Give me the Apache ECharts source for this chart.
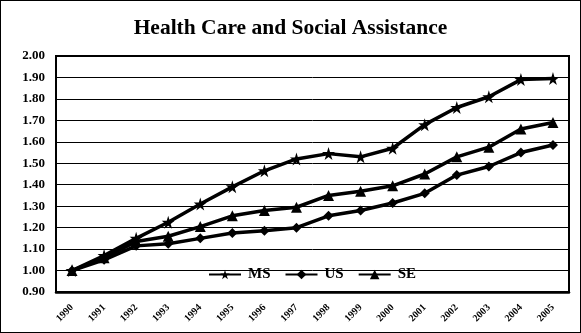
<!DOCTYPE html>
<html>
<head>
<meta charset="utf-8">
<script src="https://cdn.jsdelivr.net/npm/echarts@6/dist/echarts.min.js"></script>
<style>
html, body { margin: 0; padding: 0; background: #fff; }
#chart { width: 581px; height: 333px; box-sizing: border-box; border: 1px solid #000; }
</style>
</head>
<body>
<div id="chart"></div>
<script>
// years on the x axis
var years = ['1990','1991','1992','1993','1994','1995','1996','1997','1998','1999','2000','2001','2002','2003','2004','2005'];
// index values (1990 = 1.00)
var msData = [1.00, 1.07, 1.15, 1.225, 1.31, 1.39, 1.465, 1.52, 1.545, 1.53, 1.57, 1.68, 1.76, 1.81, 1.89, 1.895];
var usData = [1.00, 1.05, 1.115, 1.125, 1.15, 1.175, 1.185, 1.20, 1.255, 1.28, 1.315, 1.36, 1.445, 1.485, 1.55, 1.585];
var seData = [1.00, 1.06, 1.135, 1.16, 1.205, 1.255, 1.28, 1.295, 1.35, 1.37, 1.395, 1.45, 1.53, 1.575, 1.66, 1.69];

var starPath = 'path://M50,0 L61,35 L98,35 L68,57 L79,91 L50,70 L21,91 L32,57 L2,35 L39,35 Z';

var chart = echarts.init(document.getElementById('chart'));

function makeSeries(name, data, symbol, size) {
	return {
		name: name,
		type: 'line',
		data: data,
		symbol: symbol,
		symbolSize: size,
		showAllSymbol: true,
		lineStyle: { color: '#000', width: 3.5 },
		itemStyle: { color: '#000' },
		z: 3
	};
}

var option = {
	animation: false,
	textStyle: { fontFamily: 'Liberation Serif', color: '#000' },
	title: {
		text: 'Health Care and Social Assistance',
		left: 'center',
		top: 11,
		textStyle: { fontFamily: 'Liberation Serif', fontSize: 21.5, fontWeight: 'bold', color: '#000' }
	},
	legend: {
		data: ['MS', 'US', 'SE'],
		left: 202,
		top: 261,
		itemWidth: 32,
		itemHeight: 12,
		itemGap: 14,
		textStyle: { fontFamily: 'Liberation Serif', fontSize: 15, fontWeight: 'bold', color: '#000', padding: [0, 0, 0, 2] }
	},
	grid: {
		left: 55,
		right: 11,
		top: 55,
		bottom: 40,
		show: true,
		borderColor: '#000',
		borderWidth: 2
	},
	xAxis: {
		type: 'category',
		data: years,
		boundaryGap: true,
		axisLine: { lineStyle: { color: '#000', width: 2.5 } },
		axisTick: { show: false },
		axisLabel: {
			rotate: 45,
			interval: 0,
			fontFamily: 'Liberation Serif',
			fontSize: 10,
			fontWeight: 'bold',
			color: '#000',
			margin: 14
		}
	},
	yAxis: {
		type: 'value',
		min: 0.9,
		max: 2.0,
		interval: 0.1,
		axisLine: { show: true, lineStyle: { color: '#000', width: 2 } },
		axisTick: { show: false },
		splitLine: { lineStyle: { color: '#000', width: 1 } },
		axisLabel: {
			fontFamily: 'Liberation Serif',
			fontSize: 13,
			fontWeight: 'bold',
			color: '#000',
			margin: 11,
			formatter: function (v) { return v.toFixed(2); }
		}
	},
	series: [
		makeSeries('MS', msData, starPath, 13),
		makeSeries('US', usData, 'diamond', 10),
		makeSeries('SE', seData, 'triangle', 11)
	]
};
chart.setOption(option);
</script>
</body>
</html>
